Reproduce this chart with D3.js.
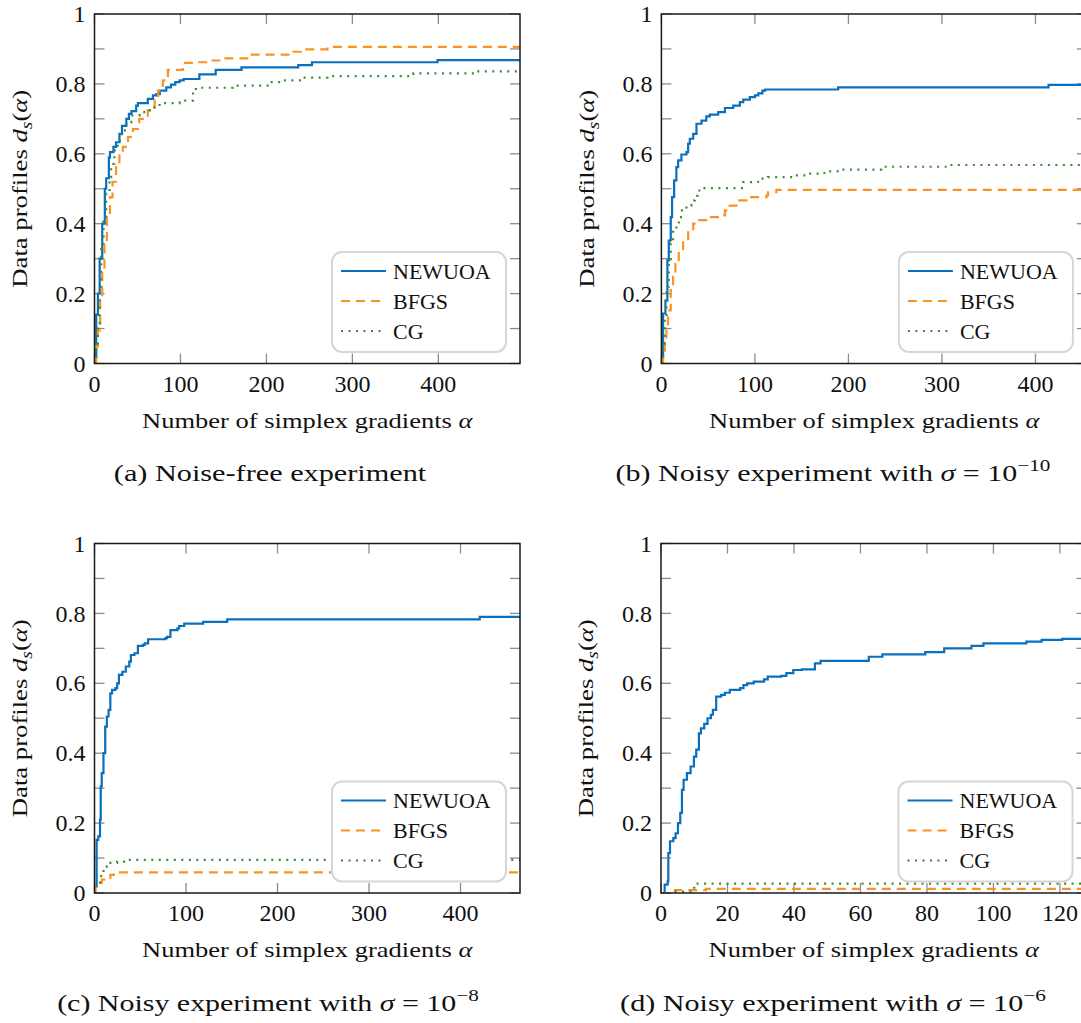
<!DOCTYPE html>
<html><head><meta charset="utf-8">
<script src="https://cdn.jsdelivr.net/npm/d3@7/dist/d3.min.js"></script>
<style>
body{margin:0;background:#fff}
svg{display:block}
text{font-family:"Liberation Serif","Times New Roman",serif;fill:#111}
</style>
</head><body>
<svg id="chart" width="1081" height="1023"></svg>
<script>
// ---------------- data ----------------
const seriesNames = ["NEWUOA", "BFGS", "CG"];
const yTickValues = [0, 0.1, 0.2, 0.3, 0.4, 0.5, 0.6, 0.7, 0.8, 0.9, 1];
const yTickLabels = {0: "0", 0.2: "0.2", 0.4: "0.4", 0.6: "0.6", 0.8: "0.8", 1: "1"};
const xTicksLarge = [0, 100, 200, 300, 400];
const xTicksSmall = [0, 20, 40, 60, 80, 100, 120];
const xMaxA = 495, xMaxB = 455, xMaxC = 465, xMaxD = 128;
const captionLetters = ["(a)", "(b)", "(c)", "(d)"];
const sigmaExponents = [null, "\u221210", "\u22128", "\u22126"];

// Panel (a) noise-free
const aNEWUOA = [[0,0.02],[2,0.14],[4,0.2],[6,0.30],[9,0.40],[12,0.50],[13.6,0.53],[16.7,0.59],[18,0.605],[22,0.62],[25,0.633],[29,0.657],[32,0.68],[37,0.70],[40,0.714],[43,0.722],[48.5,0.738],[50.5,0.745],[62,0.757],[68,0.767],[72,0.771],[76,0.781],[83.5,0.79],[89,0.798],[94,0.805],[99,0.81],[103.7,0.814],[122,0.827],[141,0.84],[171,0.847],[237,0.854],[253,0.862],[399,0.868]];
const aBFGS = [[0,0],[2,0.05],[4,0.095],[6.6,0.18],[9,0.27],[11.6,0.34],[14.4,0.42],[18,0.476],[21,0.52],[25,0.57],[29,0.60],[33,0.62],[39,0.648],[44.7,0.671],[52,0.70],[62,0.724],[70,0.752],[74,0.781],[79.6,0.81],[85.4,0.84],[103,0.86],[114.6,0.862],[134,0.867],[149.5,0.873],[180.6,0.884],[231,0.892],[243,0.899],[271,0.906]];
const aCG = [[0,0],[2,0.057],[4,0.114],[6,0.22],[7.8,0.343],[10.5,0.42],[13.6,0.486],[17.5,0.533],[19.4,0.571],[23,0.61],[27,0.638],[31,0.667],[37,0.69],[42.7,0.71],[52.4,0.719],[64,0.724],[68,0.733],[75.7,0.745],[99,0.752],[114.6,0.776],[118,0.789],[161,0.795],[204,0.805],[219,0.81],[243,0.818],[271,0.822],[371,0.83],[443,0.836]];

// Panel (b) sigma = 1e-10
const bNEWUOA = [[0,0.02],[1.8,0.143],[4.3,0.18],[6.4,0.295],[7.9,0.352],[10,0.419],[11.4,0.476],[13.6,0.524],[16,0.562],[17.9,0.581],[21.4,0.598],[26.8,0.605],[28.6,0.629],[30.4,0.643],[34,0.657],[37.5,0.686],[42.9,0.695],[48,0.707],[51.8,0.712],[60.7,0.719],[67.9,0.731],[76.8,0.738],[83.9,0.748],[87.5,0.755],[94.6,0.762],[100,0.767],[103.6,0.773],[108,0.781],[111,0.784],[189,0.79],[414,0.797]];
const bBFGS = [[0,0],[1.8,0.02],[3.6,0.057],[5.4,0.095],[7.1,0.152],[10,0.21],[12.5,0.248],[15,0.286],[18.6,0.324],[23.2,0.352],[28.6,0.381],[34,0.40],[39,0.41],[48,0.419],[64,0.424],[68,0.438],[73,0.452],[82,0.467],[91,0.476],[112.5,0.481],[114,0.49],[123,0.497]];
const bCG = [[0,0],[1.8,0.057],[3.6,0.133],[5.4,0.22],[7.9,0.286],[10,0.343],[12.5,0.381],[16,0.40],[18.6,0.419],[22,0.438],[26.8,0.452],[32,0.467],[35.7,0.48],[39,0.495],[43,0.502],[87.5,0.519],[98,0.52],[107,0.529],[114,0.533],[143,0.538],[157,0.543],[171,0.545],[178.6,0.55],[193,0.555],[235,0.563],[309,0.568]];

// Panel (c) sigma = 1e-8
const cNEWUOA = [[0,0.02],[2.3,0.152],[4.1,0.162],[6,0.21],[6.8,0.305],[7.9,0.343],[9.8,0.40],[11.7,0.476],[13.5,0.505],[15.4,0.524],[17.3,0.571],[19.2,0.581],[22.9,0.586],[24.8,0.60],[26.7,0.624],[30.5,0.633],[34.2,0.648],[38,0.662],[39.8,0.681],[43.6,0.686],[47.4,0.707],[53,0.71],[54.9,0.714],[58.6,0.726],[77.4,0.729],[79.3,0.733],[83,0.752],[90.6,0.757],[92.5,0.764],[98,0.771],[118.8,0.776],[145,0.783],[421,0.79]];
const cBFGS = [[0,0],[1.2,0.019],[4,0.029],[8,0.038],[13.5,0.043],[17.3,0.052],[21,0.059]];
const cCG = [[0,0],[2.3,0.019],[6,0.048],[9.8,0.067],[13.5,0.076],[17.3,0.086],[24.8,0.09],[32.3,0.095]];

// Panel (d) sigma = 1e-6
const dNEWUOA = [[0,0],[1.1,0.024],[2,0.033],[2.2,0.114],[2.7,0.148],[3.7,0.157],[4.4,0.171],[5.1,0.20],[5.8,0.229],[6.3,0.295],[6.8,0.324],[7.8,0.343],[8.9,0.362],[9.9,0.39],[10.6,0.41],[11.4,0.457],[12,0.471],[13,0.484],[14,0.50],[15,0.51],[15.6,0.524],[16.6,0.562],[18.1,0.567],[19.2,0.573],[20.7,0.581],[23.8,0.586],[24.8,0.595],[25.9,0.60],[27.9,0.605],[31,0.611],[32.1,0.619],[36.2,0.621],[37.7,0.629],[39.8,0.638],[42.4,0.64],[46.3,0.657],[48,0.664],[62.5,0.676],[66.6,0.683],[79.5,0.689],[85.2,0.70],[93.4,0.707],[97,0.714],[109.9,0.719],[114.5,0.724],[120.7,0.727]];
const dBFGS = [[0,0],[2.7,0.005],[4.2,0.008],[13.5,0.012]];
const dCG = [[0,0],[3,0.004],[10,0.027]];

// ---------------- layout ----------------
const W = 425.5, H = 349.5;
const colors = ["#0a6fbd", "#fb9324", "#3a8a35"];
const dashes = [null, "9,6", "2,5.5"];

const panels = [
  {left: 94.5, top: 14, xMax: xMaxA, xTicks: xTicksLarge, series: [aNEWUOA, aBFGS, aCG], cx: 270, capY: 481},
  {left: 661.4, top: 14, xMax: xMaxB, xTicks: xTicksLarge, series: [bNEWUOA, bBFGS, bCG], cx: 833, capY: 481},
  {left: 94.5, top: 543.5, xMax: xMaxC, xTicks: xTicksLarge, series: [cNEWUOA, cBFGS, cCG], cx: 268, capY: 1011},
  {left: 661, top: 543.5, xMax: xMaxD, xTicks: xTicksSmall, series: [dNEWUOA, dBFGS, dCG], cx: 833, capY: 1011}
];
const captionWidths = [313, 435, 422, 426];

const svg = d3.select("#chart");
const defs = svg.append("defs");

function fit(textSel, target) {
  const w = textSel.node().getBBox().width;
  textSel.attr("transform", `scale(${target / w},1)`);
}

panels.forEach((p, i) => {
  const g = svg.append("g").attr("transform", `translate(${p.left},${p.top})`);
  const x = d3.scaleLinear().domain([0, p.xMax]).range([0, W]);
  const y = d3.scaleLinear().domain([0, 1]).range([H, 0]);

  const clipId = "clip" + i;
  defs.append("clipPath").attr("id", clipId).append("rect")
    .attr("x", 0).attr("y", 0).attr("width", W).attr("height", H);

  // ticks (inward, all four sides)
  const tl = 10;
  const tickG = g.append("g").attr("stroke", "#8c8c8c").attr("stroke-width", 1.3);
  yTickValues.forEach(v => {
    tickG.append("line").attr("x1", 0).attr("x2", tl).attr("y1", y(v)).attr("y2", y(v));
    tickG.append("line").attr("x1", W).attr("x2", W - tl).attr("y1", y(v)).attr("y2", y(v));
  });
  p.xTicks.forEach(v => {
    tickG.append("line").attr("x1", x(v)).attr("x2", x(v)).attr("y1", H).attr("y2", H - tl);
    tickG.append("line").attr("x1", x(v)).attr("x2", x(v)).attr("y1", 0).attr("y2", tl);
  });

  // curves
  const line = d3.line().curve(d3.curveStepAfter).x(d => x(d[0])).y(d => y(d[1]));
  const lg = g.append("g").attr("clip-path", `url(#${clipId})`);
  p.series.forEach((s, k) => {
    const pts = s.concat([[p.xMax, s[s.length - 1][1]]]);
    lg.append("path").attr("d", line(pts)).attr("fill", "none")
      .attr("stroke", colors[k]).attr("stroke-width", 2.2)
      .attr("stroke-dasharray", dashes[k]);
  });

  // frame
  g.append("rect").attr("x", 0).attr("y", 0).attr("width", W).attr("height", H)
    .attr("fill", "none").attr("stroke", "#1a1a1a").attr("stroke-width", 1.5);

  // tick labels
  yTickValues.filter(v => yTickLabels[v] !== undefined).forEach(v => {
    g.append("text").attr("x", -9).attr("y", y(v)).attr("dy", "0.34em")
      .attr("text-anchor", "end").attr("font-size", 24).text(yTickLabels[v]);
  });
  p.xTicks.forEach(v => {
    g.append("text").attr("x", x(v)).attr("y", H + 28)
      .attr("text-anchor", "middle").attr("font-size", 24).text(String(v));
  });

  // axis titles
  const xt = g.append("g").attr("transform", `translate(${W / 2},${H + 64})`)
    .append("text").attr("text-anchor", "middle").attr("font-size", 22);
  xt.append("tspan").text("Number of simplex gradients ");
  xt.append("tspan").attr("font-style", "italic").text("\u03b1");
  fit(xt, 331);

  const yt = g.append("g").attr("transform", `translate(-75.5,${H / 2}) rotate(-90)`)
    .append("text").attr("text-anchor", "middle").attr("font-size", 22).attr("dy", "0.35em");
  yt.append("tspan").text("Data profiles ");
  yt.append("tspan").attr("font-style", "italic").text("d");
  yt.append("tspan").attr("font-style", "italic").attr("font-size", 16).attr("dy", 5).text("s");
  yt.append("tspan").attr("dy", -5).text("(");
  yt.append("tspan").attr("font-style", "italic").text("\u03b1");
  yt.append("tspan").text(")");
  fit(yt, 198);

  // legend
  const lw = 174, lh = 100;
  const lx = W - 14 - lw, ly = H - 11.5 - lh;
  const leg = g.append("g").attr("transform", `translate(${lx},${ly})`);
  leg.append("rect").attr("width", lw).attr("height", lh).attr("rx", 10).attr("ry", 10)
    .attr("fill", "#fff").attr("stroke", "#d6d6d6").attr("stroke-width", 2);
  seriesNames.forEach((name, k) => {
    const ry = 19 + 30 * k;
    leg.append("line").attr("x1", 9).attr("x2", 54).attr("y1", ry).attr("y2", ry)
      .attr("stroke", colors[k]).attr("stroke-width", 2.2).attr("stroke-dasharray", dashes[k]);
    leg.append("text").attr("x", 61).attr("y", ry).attr("dy", "0.35em")
      .attr("font-size", 22).text(name);
  });

  // caption
  const cap = svg.append("g").attr("transform", `translate(${p.cx},${p.capY})`)
    .append("text").attr("text-anchor", "middle").attr("font-size", 24);
  if (sigmaExponents[i] === null) {
    cap.append("tspan").text(captionLetters[i] + " Noise-free experiment");
  } else {
    cap.append("tspan").text(captionLetters[i] + " Noisy experiment with ");
    cap.append("tspan").attr("font-style", "italic").text("\u03c3");
    cap.append("tspan").text(" = 10");
    cap.append("tspan").attr("font-size", 17).attr("dy", -10).text(sigmaExponents[i]);
  }
  fit(cap, captionWidths[i]);
});
</script>
</body></html>
